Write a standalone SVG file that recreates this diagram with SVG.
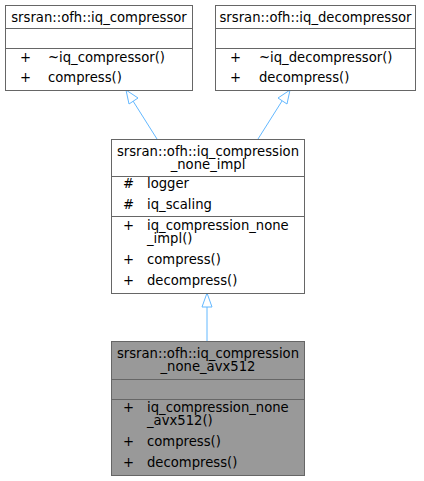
<svg xmlns="http://www.w3.org/2000/svg" width="424" height="481" viewBox="0 0 424 481">
<defs>
<style>
text { font-family: "DejaVu Sans", sans-serif; font-size: 13.2px; fill: #000; }
.box { fill: #fff; stroke: #666; stroke-width: 1; }
.boxg { fill: #999; stroke: #666; stroke-width: 1; }
.sep { stroke: #666; stroke-width: 1; }
.edge { stroke: #63b8ff; stroke-width: 1; fill: none; }
.head { fill: #fff; stroke: #63b8ff; stroke-width: 1; }
.c { text-anchor: middle; }
</style>
</defs>
<rect width="424" height="481" fill="#fff"/>
<g id="edges">
<path class="edge" d="M157,139 L133,101"/>
<polygon class="head" points="126,90 129,104 138,98"/>
<path class="edge" d="M258,139 L282,101"/>
<polygon class="head" points="290,90 278,98 287,104"/>
<path class="edge" d="M207,341 L207,307"/>
<polygon class="head" points="207,293 202,307 212,307"/>
</g>
<g id="iq_compressor">
<rect class="box" x="5.5" y="5.5" width="187" height="85"/>
<line class="sep" x1="5.5" y1="28.5" x2="192.5" y2="28.5"/>
<line class="sep" x1="5.5" y1="48.5" x2="192.5" y2="48.5"/>
<text class="c" x="99" y="22">srsran::ofh::iq_compressor</text>
<text x="20" y="62">+</text><text x="48" y="62">~iq_compressor()</text>
<text x="20" y="82">+</text><text x="48" y="82">compress()</text>
</g>
<g id="iq_decompressor">
<rect class="box" x="215.5" y="5.5" width="200" height="85"/>
<line class="sep" x1="215.5" y1="28.5" x2="415.5" y2="28.5"/>
<line class="sep" x1="215.5" y1="48.5" x2="415.5" y2="48.5"/>
<text class="c" x="315.5" y="22">srsran::ofh::iq_decompressor</text>
<text x="230" y="62">+</text><text x="259" y="62">~iq_decompressor()</text>
<text x="230" y="82">+</text><text x="259" y="82">decompress()</text>
</g>
<g id="iq_compression_none_impl">
<rect class="box" x="111.5" y="139.5" width="193" height="154"/>
<line class="sep" x1="111.5" y1="176.5" x2="304.5" y2="176.5"/>
<line class="sep" x1="111.5" y1="216.5" x2="304.5" y2="216.5"/>
<text class="c" x="208" y="156">srsran::ofh::iq_compression</text>
<text class="c" x="208" y="169">_none_impl</text>
<text x="123" y="188">#</text><text x="147" y="188">logger</text>
<text x="123" y="209">#</text><text x="147" y="209">iq_scaling</text>
<text x="123" y="230">+</text><text x="147" y="230">iq_compression_none</text>
<text x="147" y="243">_impl()</text>
<text x="123" y="264">+</text><text x="147" y="264">compress()</text>
<text x="123" y="285">+</text><text x="147" y="285">decompress()</text>
</g>
<g id="iq_compression_none_avx512">
<rect class="boxg" x="111.5" y="341.5" width="193" height="134"/>
<line class="sep" x1="111.5" y1="379.5" x2="304.5" y2="379.5"/>
<line class="sep" x1="111.5" y1="399.5" x2="304.5" y2="399.5"/>
<text class="c" x="208" y="358">srsran::ofh::iq_compression</text>
<text class="c" x="208" y="371">_none_avx512</text>
<text x="123" y="412">+</text><text x="147" y="412">iq_compression_none</text>
<text x="147" y="425">_avx512()</text>
<text x="123" y="446">+</text><text x="147" y="446">compress()</text>
<text x="123" y="467">+</text><text x="147" y="467">decompress()</text>
</g>
</svg>
